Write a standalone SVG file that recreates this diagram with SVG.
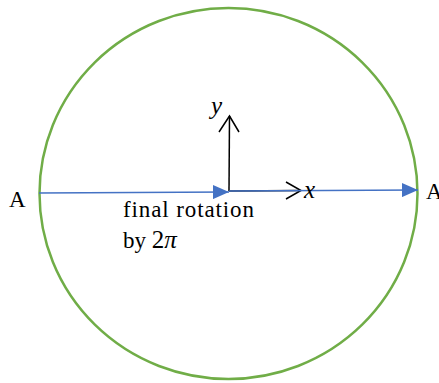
<svg xmlns="http://www.w3.org/2000/svg" width="439" height="383" viewBox="0 0 439 383">
<defs>
<style>
.circ{fill:none;stroke:#70AD47;stroke-width:2.5}
.blue{stroke:#4472C4;stroke-width:1.5;fill:none}
.ax{stroke:#000;stroke-width:1.5;fill:none}
</style>
<marker id="tri" viewBox="0 0 16 14" refX="16" refY="7" markerWidth="16" markerHeight="14" markerUnits="userSpaceOnUse" orient="auto">
<path d="M0,0 L16,7 L0,14 Z" fill="#4472C4"/>
</marker>
</defs>
<g id="circle"><ellipse class="circ" cx="228.5" cy="193.5" rx="189" ry="185.5"/></g>
<g id="connectors">
<line class="blue" x1="39" y1="193" x2="229" y2="192" marker-end="url(#tri)"/>
<line class="ax" x1="229" y1="191" x2="229.5" y2="116"/>
<polyline class="ax" points="219,132 229.5,116 239,132"/>
<line class="ax" x1="229" y1="191" x2="300" y2="190.5"/>
<polyline class="ax" points="286,182 301,190.5 286,199"/>
<line class="blue" x1="229" y1="191" x2="418" y2="190" marker-end="url(#tri)"/>
</g>
<g font-family="Liberation Serif, DejaVu Serif, serif" fill="#000">
<g id="labelA"><text font-size="23" x="9" y="207">A</text></g>
<g id="labelA2"><text font-size="23" x="426" y="199">A</text></g>
<g id="labelx"><text font-size="25" font-style="italic" x="304" y="198">x</text></g>
<g id="labely"><text font-size="25" font-style="italic" x="211" y="114">y</text></g>
<g id="caption">
<text font-size="23" x="123" y="217" textLength="131">final rotation</text>
<text font-size="23" x="123" y="248">by <tspan font-size="25">2</tspan><tspan font-size="25" font-style="italic">π</tspan></text>
</g>
</g>
</svg>
